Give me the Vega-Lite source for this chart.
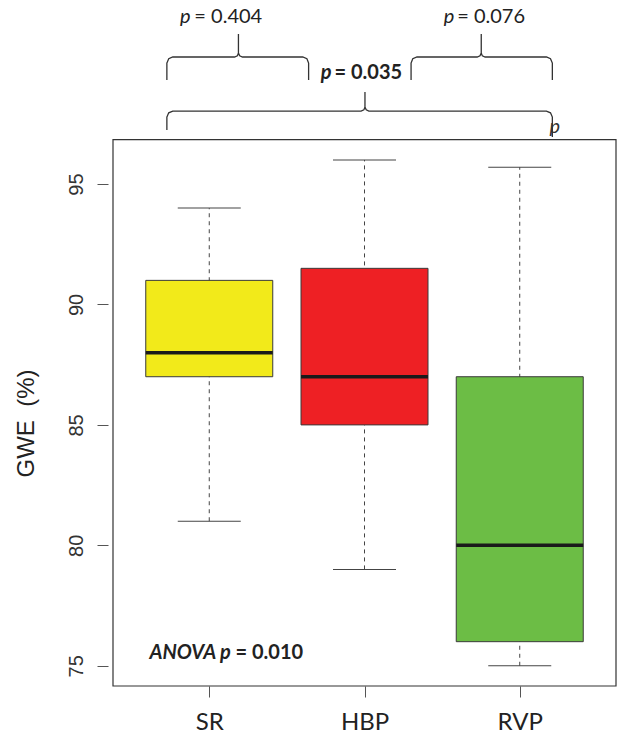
{
  "$schema": "https://vega.github.io/schema/vega-lite/v6.json",
  "width": 513,
  "height": 686,
  "autosize": {"type": "none"},
  "padding": {"left": 108, "top": 0, "right": 2, "bottom": 48},
  "background": "white",
  "config": {"view": {"stroke": null}},
  "data": {"values": [
    {"group": "SR", "idx": 1, "min": 81, "q1": 87, "median": 88, "q3": 91, "max": 94},
    {"group": "HBP", "idx": 2, "min": 79, "q1": 85, "median": 87, "q3": 91.5, "max": 96},
    {"group": "RVP", "idx": 3, "min": 75, "q1": 76, "median": 80, "q3": 87, "max": 95.7}
  ]},
  "layer": [
    {
      "data": {"values": [{}]},
      "mark": {"type": "rect", "fill": "transparent", "stroke": "#333333", "strokeWidth": 1.2},
      "encoding": {
        "x": {"datum": 0.38, "type": "quantitative", "scale": {"domain": [0.38, 3.62], "nice": false, "zero": false},
          "axis": {"values": [1, 2, 3], "labelExpr": "datum.value == 1 ? 'SR' : datum.value == 2 ? 'HBP' : 'RVP'", "title": null, "domain": false, "grid": false, "tickSize": 11, "tickColor": "#555555", "labelFont": "Lato", "labelFontSize": 24, "labelColor": "#222222", "labelBaseline": "alphabetic", "labelPadding": 32, "labelFlush": false}},
        "x2": {"datum": 3.62},
        "y": {"datum": 74.16, "type": "quantitative", "scale": {"domain": [74.16, 102.64], "nice": false, "zero": false},
          "axis": {"values": [75, 80, 85, 90, 95], "title": "GWE\u00a0\u00a0(%)", "titleFont": "Liberation Sans", "titleFontSize": 24, "titleFontWeight": "normal", "titleColor": "#222222", "titleAngle": -90, "titleX": -75, "titleY": 423, "titleBaseline": "alphabetic", "titleAlign": "center", "domain": false, "grid": false, "tickSize": 11, "tickColor": "#555555", "labelAngle": -90, "labelAlign": "center", "labelBaseline": "alphabetic", "labelPadding": 15, "labelFont": "Liberation Sans", "labelFontSize": 20, "labelColor": "#333333"}},
        "y2": {"datum": 96.84}
      }
    },
    {
      "mark": {"type": "rule", "color": "#444444", "strokeWidth": 1, "strokeDash": [4, 4]},
      "encoding": {
        "x": {"field": "idx", "type": "quantitative"},
        "y": {"field": "min", "type": "quantitative"},
        "y2": {"field": "max"}
      }
    },
    {
      "mark": {"type": "tick", "orient": "horizontal", "size": 63, "thickness": 1, "color": "#444444", "opacity": 1},
      "encoding": {
        "x": {"field": "idx", "type": "quantitative"},
        "y": {"field": "max", "type": "quantitative"}
      }
    },
    {
      "mark": {"type": "tick", "orient": "horizontal", "size": 63, "thickness": 1, "color": "#444444", "opacity": 1},
      "encoding": {
        "x": {"field": "idx", "type": "quantitative"},
        "y": {"field": "min", "type": "quantitative"}
      }
    },
    {
      "mark": {"type": "bar", "size": 127, "stroke": "#3a3a3a", "strokeWidth": 1, "opacity": 1},
      "encoding": {
        "x": {"field": "idx", "type": "quantitative"},
        "y": {"field": "q1", "type": "quantitative"},
        "y2": {"field": "q3"},
        "color": {"field": "group", "type": "nominal", "scale": {"domain": ["SR", "HBP", "RVP"], "range": ["#F2EA1A", "#EE2024", "#6CBD45"]}, "legend": null}
      }
    },
    {
      "mark": {"type": "tick", "orient": "horizontal", "size": 127, "thickness": 3.5, "color": "#1a1a1a", "opacity": 1},
      "encoding": {
        "x": {"field": "idx", "type": "quantitative"},
        "y": {"field": "median", "type": "quantitative"}
      }
    },
    {
      "data": {"values": [
        {"b": "A", "i": 1, "x": 0.727, "y": 99.318}, {"b": "A", "i": 2, "x": 0.727, "y": 100.024}, {"b": "A", "i": 3, "x": 0.739, "y": 100.2}, {"b": "A", "i": 4, "x": 0.765, "y": 100.273}, {"b": "A", "i": 5, "x": 1.163, "y": 100.273}, {"b": "A", "i": 6, "x": 1.181, "y": 100.321}, {"b": "A", "i": 7, "x": 1.188, "y": 100.439}, {"b": "A", "i": 8, "x": 1.188, "y": 101.228}, {"b": "A", "i": 9, "x": 1.188, "y": 100.439}, {"b": "A", "i": 10, "x": 1.196, "y": 100.321}, {"b": "A", "i": 11, "x": 1.214, "y": 100.273}, {"b": "A", "i": 12, "x": 1.602, "y": 100.273}, {"b": "A", "i": 13, "x": 1.629, "y": 100.2}, {"b": "A", "i": 14, "x": 1.64, "y": 100.024}, {"b": "A", "i": 15, "x": 1.64, "y": 99.318},
        {"b": "B", "i": 1, "x": 2.3, "y": 99.318}, {"b": "B", "i": 2, "x": 2.3, "y": 100.024}, {"b": "B", "i": 3, "x": 2.311, "y": 100.2}, {"b": "B", "i": 4, "x": 2.338, "y": 100.273}, {"b": "B", "i": 5, "x": 2.726, "y": 100.273}, {"b": "B", "i": 6, "x": 2.744, "y": 100.321}, {"b": "B", "i": 7, "x": 2.752, "y": 100.439}, {"b": "B", "i": 8, "x": 2.752, "y": 101.228}, {"b": "B", "i": 9, "x": 2.752, "y": 100.439}, {"b": "B", "i": 10, "x": 2.759, "y": 100.321}, {"b": "B", "i": 11, "x": 2.777, "y": 100.273}, {"b": "B", "i": 12, "x": 3.172, "y": 100.273}, {"b": "B", "i": 13, "x": 3.198, "y": 100.2}, {"b": "B", "i": 14, "x": 3.21, "y": 100.024}, {"b": "B", "i": 15, "x": 3.21, "y": 99.318},
        {"b": "C", "i": 1, "x": 0.727, "y": 97.241}, {"b": "C", "i": 2, "x": 0.727, "y": 97.781}, {"b": "C", "i": 3, "x": 0.739, "y": 97.957}, {"b": "C", "i": 4, "x": 0.765, "y": 98.03}, {"b": "C", "i": 5, "x": 1.978, "y": 98.03}, {"b": "C", "i": 6, "x": 1.996, "y": 98.079}, {"b": "C", "i": 7, "x": 2.003, "y": 98.196}, {"b": "C", "i": 8, "x": 2.003, "y": 98.819}, {"b": "C", "i": 9, "x": 2.003, "y": 98.196}, {"b": "C", "i": 10, "x": 2.011, "y": 98.079}, {"b": "C", "i": 11, "x": 2.028, "y": 98.03}, {"b": "C", "i": 12, "x": 3.172, "y": 98.03}, {"b": "C", "i": 13, "x": 3.198, "y": 97.957}, {"b": "C", "i": 14, "x": 3.21, "y": 97.781}, {"b": "C", "i": 15, "x": 3.21, "y": 96.951}
      ]},
      "mark": {"type": "line", "color": "#333333", "strokeWidth": 1.3, "interpolate": "linear"},
      "encoding": {
        "x": {"field": "x", "type": "quantitative"},
        "y": {"field": "y", "type": "quantitative"},
        "detail": {"field": "b", "type": "nominal"},
        "order": {"field": "i", "type": "quantitative"}
      }
    },
    {
      "data": {"values": [
        {"t": "p", "x": 0.879, "y": 101.685},
        {"t": "p", "x": 2.578, "y": 101.685}
      ]},
      "mark": {"type": "text", "font": "Lato", "fontSize": 20, "fontStyle": "italic", "align": "right", "baseline": "alphabetic", "color": "#222222"},
      "encoding": {
        "x": {"field": "x", "type": "quantitative"},
        "y": {"field": "y", "type": "quantitative"},
        "text": {"field": "t"}
      }
    },
    {
      "data": {"values": [
        {"t": "= 0.404", "x": 0.904, "y": 101.685},
        {"t": "= 0.076", "x": 2.597, "y": 101.685}
      ]},
      "mark": {"type": "text", "font": "Lato", "fontSize": 20, "align": "left", "baseline": "alphabetic", "color": "#222222"},
      "encoding": {
        "x": {"field": "x", "type": "quantitative"},
        "y": {"field": "y", "type": "quantitative"},
        "text": {"field": "t"}
      }
    },
    {
      "data": {"values": [
        {"t": "p", "x": 1.788, "y": 99.36},
        {"t": "ANOVA p", "x": 1.138, "y": 75.27}
      ]},
      "mark": {"type": "text", "font": "Lato", "fontSize": 20, "fontStyle": "italic", "fontWeight": "bold", "align": "right", "baseline": "alphabetic", "color": "#222222"},
      "encoding": {
        "x": {"field": "x", "type": "quantitative"},
        "y": {"field": "y", "type": "quantitative"},
        "text": {"field": "t"}
      }
    },
    {
      "data": {"values": [
        {"t": "= 0.035", "x": 1.807, "y": 99.36},
        {"t": "= 0.010", "x": 1.169, "y": 75.27}
      ]},
      "mark": {"type": "text", "font": "Lato", "fontSize": 20, "fontWeight": "bold", "align": "left", "baseline": "alphabetic", "color": "#222222"},
      "encoding": {
        "x": {"field": "x", "type": "quantitative"},
        "y": {"field": "y", "type": "quantitative"},
        "text": {"field": "t"}
      }
    },
    {
      "data": {"values": [
        {"t": "p", "x": 3.191, "y": 97.12}
      ]},
      "mark": {"type": "text", "font": "Lato", "fontSize": 20, "fontStyle": "italic", "align": "left", "baseline": "alphabetic", "color": "#333333"},
      "encoding": {
        "x": {"field": "x", "type": "quantitative"},
        "y": {"field": "y", "type": "quantitative"},
        "text": {"field": "t"}
      }
    }
  ]
}
